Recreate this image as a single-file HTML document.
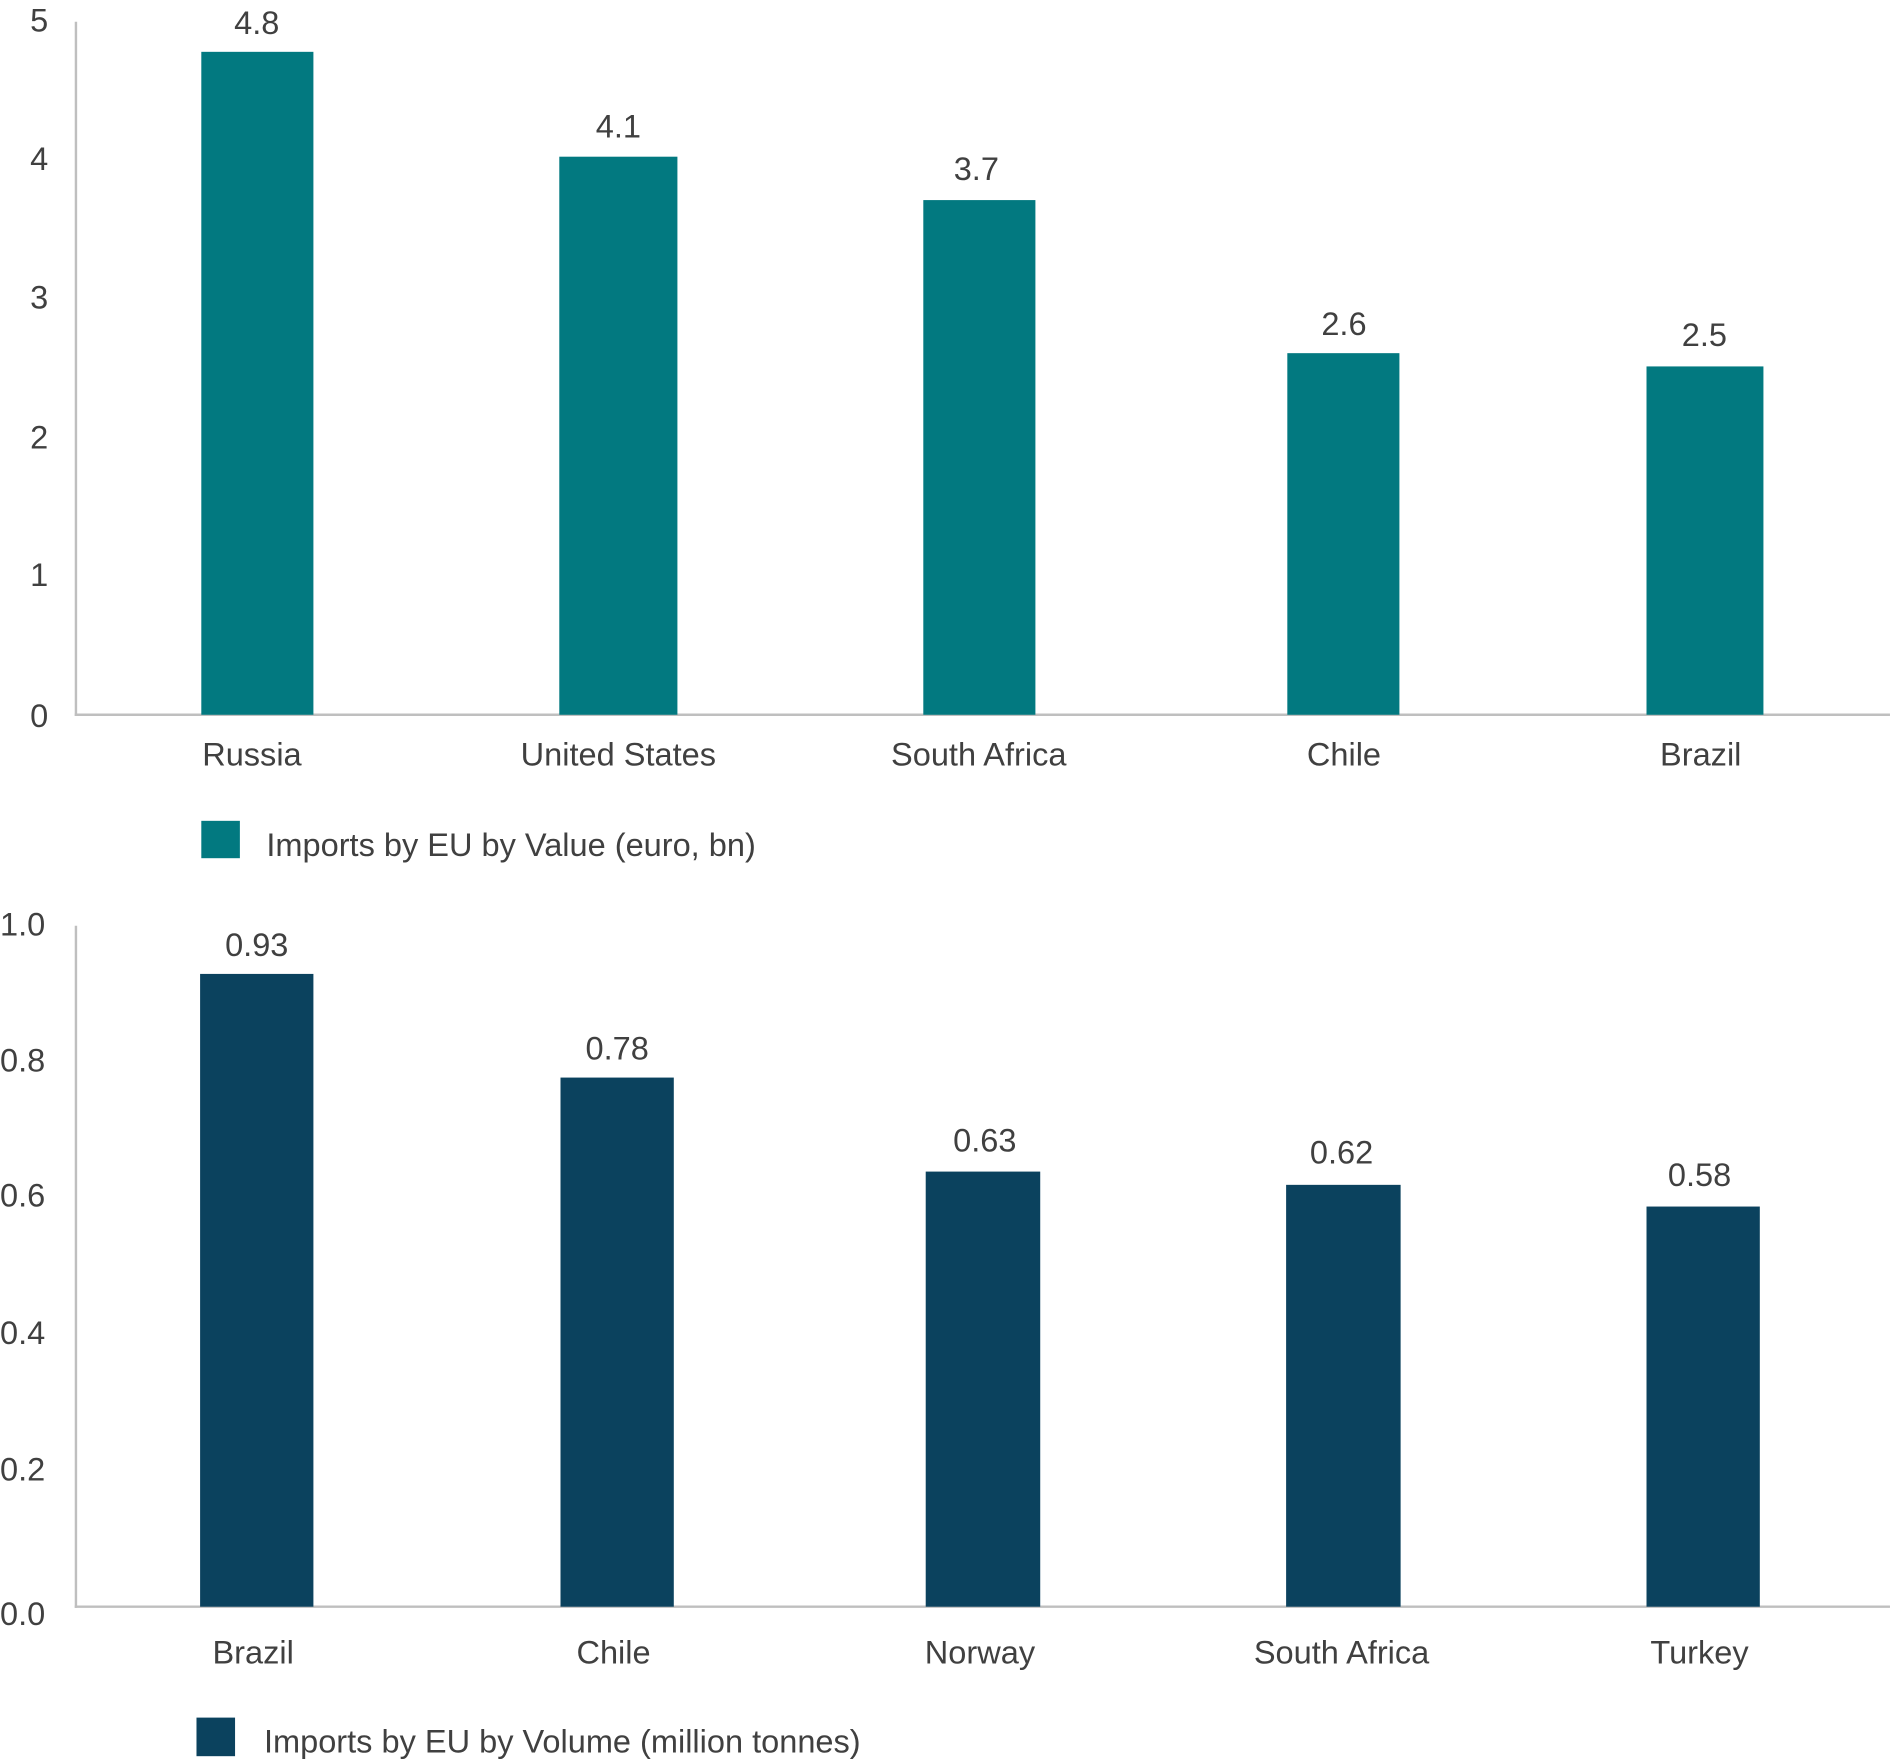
<!DOCTYPE html>
<html><head><style>html,body{margin:0;padding:0;background:#fff}svg{display:block}</style></head>
<body>
<svg width="1890" height="1761" viewBox="0 0 1568 1461" xmlns="http://www.w3.org/2000/svg" font-family="Liberation Sans, sans-serif" fill="#404040">
<g font-size="27">
<!-- Top chart -->
<line x1="63" y1="18" x2="63" y2="594" stroke="#bfbfbf" stroke-width="2"/>
<line x1="62" y1="593" x2="1568" y2="593" stroke="#bfbfbf" stroke-width="2"/>
<g text-anchor="end" dominant-baseline="middle">
<text x="40" y="19">5</text><text x="40" y="134">4</text><text x="40" y="249">3</text><text x="40" y="365">2</text><text x="40" y="479">1</text><text x="40" y="596">0</text>
</g>
<g fill="#027980">
<rect x="167" y="43" width="93" height="550"/>
<rect x="464" y="130" width="98" height="463"/>
<rect x="766" y="166" width="93" height="427"/>
<rect x="1068" y="293" width="93" height="300"/>
<rect x="1366" y="304" width="97" height="289"/>
</g>
<g text-anchor="middle" dominant-baseline="middle">
<text x="213" y="21">4.8</text><text x="513" y="107">4.1</text><text x="810" y="142">3.7</text><text x="1115" y="271">2.6</text><text x="1414" y="280">2.5</text>
<text x="209" y="628">Russia</text><text x="513" y="628">United States</text><text x="812" y="628">South Africa</text><text x="1115" y="628">Chile</text><text x="1411" y="628">Brazil</text>
</g>
<rect x="167" y="681" width="32" height="31" fill="#027980"/>
<text x="221" y="703" dominant-baseline="middle">Imports by EU by Value (euro, bn)</text>

<!-- Bottom chart -->
<line x1="63" y1="768" x2="63" y2="1334" stroke="#bfbfbf" stroke-width="2"/>
<line x1="62" y1="1333" x2="1568" y2="1333" stroke="#bfbfbf" stroke-width="2"/>
<g text-anchor="start" dominant-baseline="middle">
<text x="0" y="769">1.0</text><text x="0" y="882">0.8</text><text x="0" y="994">0.6</text><text x="0" y="1108">0.4</text><text x="0" y="1221">0.2</text><text x="0" y="1341">0.0</text>
</g>
<g fill="#0b425e">
<rect x="166" y="808" width="94" height="525"/>
<rect x="465" y="894" width="94" height="439"/>
<rect x="768" y="972" width="95" height="361"/>
<rect x="1067" y="983" width="95" height="350"/>
<rect x="1366" y="1001" width="94" height="332"/>
</g>
<g text-anchor="middle" dominant-baseline="middle">
<text x="213" y="786">0.93</text><text x="512" y="872">0.78</text><text x="817" y="948">0.63</text><text x="1113" y="958">0.62</text><text x="1410" y="977">0.58</text>
<text x="210" y="1373">Brazil</text><text x="509" y="1373">Chile</text><text x="813" y="1373">Norway</text><text x="1113" y="1373">South Africa</text><text x="1410" y="1373">Turkey</text>
</g>
<rect x="163" y="1425" width="32" height="32" fill="#0b425e"/>
<text x="219" y="1447" dominant-baseline="middle">Imports by EU by Volume (million tonnes)</text>
</g>
</svg>
</body></html>
